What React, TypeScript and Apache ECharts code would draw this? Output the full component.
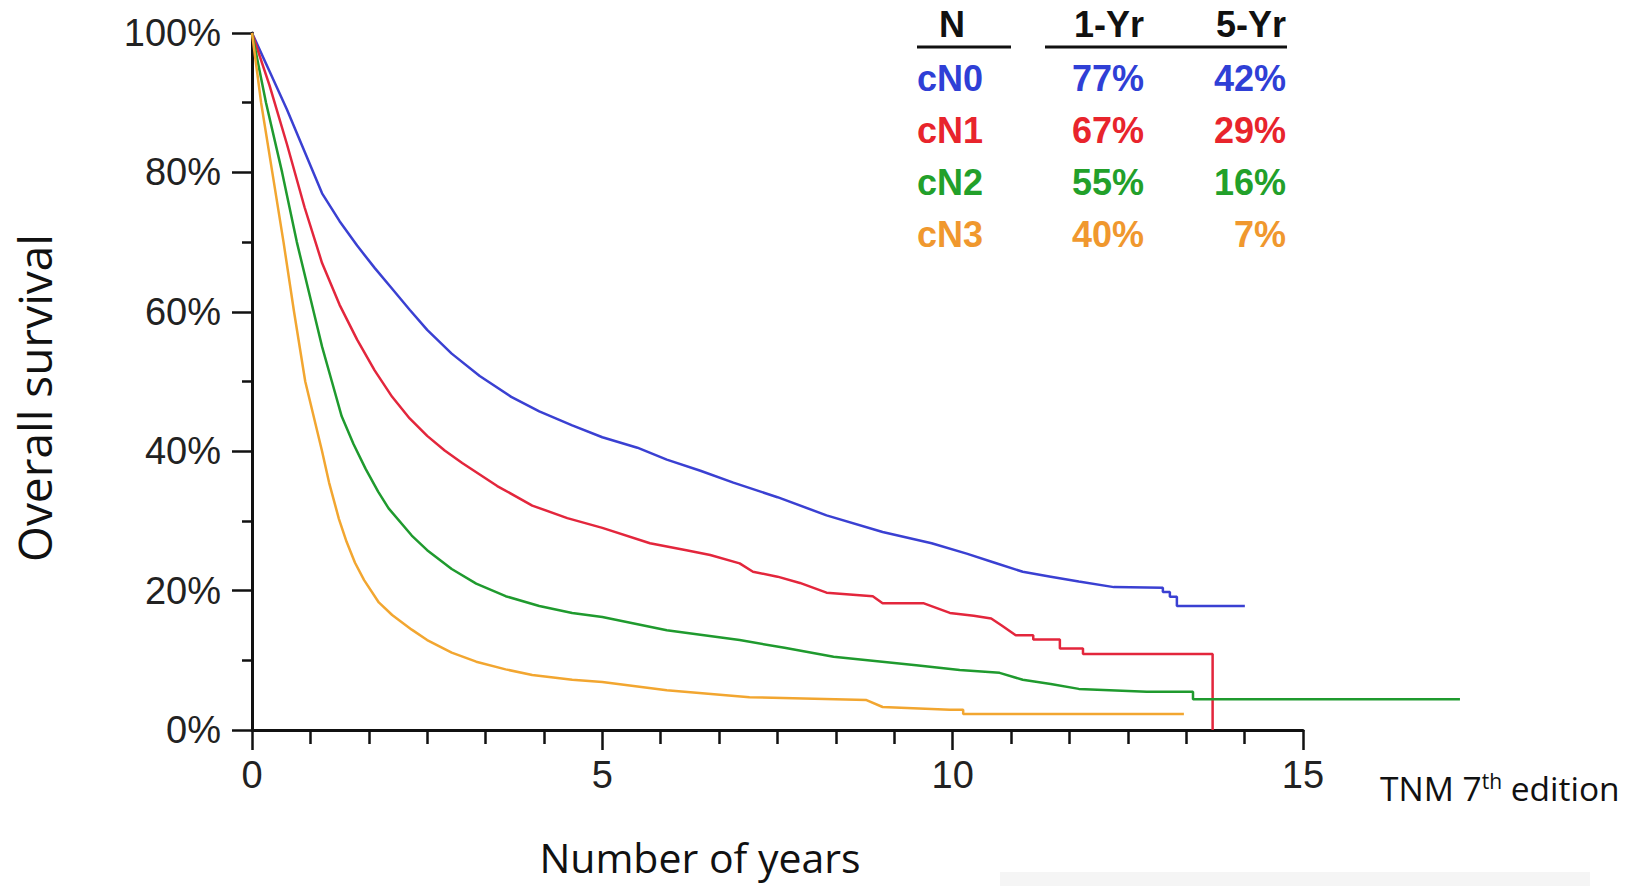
import React, { useEffect, useRef } from "react";
import * as echarts from "echarts";

// Kaplan-Meier style survival curves: [years, survival %]
const cN0: [number, number][] = [
  [0, 100], [0.25, 94.5], [0.5, 89], [0.75, 83], [1, 77], [1.25, 73], [1.5, 69.5], [1.75, 66.3],
  [2, 63.3], [2.25, 60.3], [2.5, 57.4], [2.85, 54], [3.25, 50.8], [3.7, 47.8], [4.1, 45.7],
  [4.57, 43.7], [5, 42], [5.5, 40.5], [5.92, 38.8], [6.4, 37.2], [6.87, 35.5], [7.5, 33.4],
  [8.2, 30.8], [9.0, 28.4], [9.7, 26.8], [10.2, 25.3], [10.6, 24], [11.0, 22.7], [11.4, 22.0],
  [11.8, 21.3], [12.3, 20.5], [13.0, 20.4], [13.0, 19.8], [13.1, 19.8], [13.1, 19.1], [13.2, 19.1],
  [13.2, 17.8], [14.17, 17.8],
];
const cN1: [number, number][] = [
  [0, 100], [0.25, 92.5], [0.5, 84], [0.75, 75], [1, 67], [1.25, 61], [1.5, 56], [1.75, 51.6],
  [2, 47.8], [2.25, 44.7], [2.5, 42.2], [2.75, 40.1], [3, 38.3], [3.5, 35], [4, 32.2], [4.5, 30.4],
  [5, 29], [5.68, 26.8], [6.2, 25.8], [6.54, 25.1], [6.96, 23.9], [7.15, 22.7], [7.5, 22.0],
  [7.82, 21.1], [8.2, 19.7], [8.86, 19.2], [9.0, 18.2], [9.58, 18.2], [9.96, 16.8], [10.3, 16.4],
  [10.55, 16.0], [10.7, 15.0], [10.9, 13.6], [11.15, 13.6], [11.15, 13.0], [11.53, 13.0],
  [11.53, 11.7], [11.86, 11.7], [11.86, 10.9], [13.71, 10.9], [13.71, 0],
];
const cN2: [number, number][] = [
  [0, 100], [0.2, 90], [0.43, 80], [0.64, 70], [0.88, 60], [1, 55], [1.14, 50], [1.28, 45],
  [1.45, 41], [1.62, 37.5], [1.8, 34.2], [1.95, 31.8], [2.28, 27.9], [2.5, 25.8], [2.85, 23.1],
  [3.2, 21], [3.62, 19.2], [4.1, 17.8], [4.57, 16.8], [5, 16.2], [5.92, 14.3], [6.96, 12.9],
  [7.6, 11.8], [8.3, 10.5], [9.48, 9.3], [10.1, 8.6], [10.67, 8.2], [11.0, 7.2], [11.4, 6.6],
  [11.8, 5.9], [12.77, 5.5], [13.43, 5.5], [13.43, 4.4], [17.24, 4.4],
];
const cN3: [number, number][] = [
  [0, 100], [0.13, 90], [0.29, 80], [0.45, 70], [0.6, 60], [0.76, 50], [1, 40], [1.1, 35.5],
  [1.24, 30.3], [1.35, 27], [1.47, 24], [1.6, 21.5], [1.81, 18.3], [2.0, 16.5], [2.28, 14.4],
  [2.5, 12.9], [2.85, 11.1], [3.2, 9.8], [3.62, 8.7], [4, 7.9], [4.57, 7.2], [5, 6.9], [5.92, 5.7],
  [7.1, 4.7], [8.77, 4.3], [9.0, 3.3], [9.96, 2.9], [10.15, 2.9], [10.15, 2.3], [13.3, 2.3],
];

const groupNames = ["cN0", "cN1", "cN2", "cN3"];
const groupData = [cN0, cN1, cN2, cN3];
const oneYear = ["77%", "67%", "55%", "40%"];
const fiveYear = ["42%", "29%", "16%", "7%"];
const tableHeaders = ["N", "1-Yr", "5-Yr"];
const lineColors = ["#3a40d2", "#e3263c", "#1f9a2e", "#f2a630"];
const textColors = ["#2f3fd6", "#e8242c", "#22a02a", "#f0982e"];
const xAxisMax = 15;
const curveAxisMax = 18;

export default function App() {
  const ref = useRef<HTMLDivElement>(null);

  useEffect(() => {
    if (!ref.current) return;
    const chart = echarts.init(ref.current, null, { renderer: "svg" });
    const numFont = "'Liberation Sans', Arial, sans-serif";
    const tableFont = "bold 36px 'Liberation Sans', Arial, sans-serif";
    const gridLeft = 252;
    const gridRight = 330;
    const gridWidth = 1633 - gridLeft - gridRight;

    const center = { align: "center", textAlign: "center", verticalAlign: "middle", textVerticalAlign: "middle" };
    const right = { align: "right", textAlign: "right", verticalAlign: "middle", textVerticalAlign: "middle" };
    const left = { align: "left", textAlign: "left", verticalAlign: "middle", textVerticalAlign: "middle" };

    const graphic: any[] = [];
    graphic.push({ type: "text", x: 952, y: 24, style: { text: tableHeaders[0], font: tableFont, fill: "#111", ...center } });
    graphic.push({ type: "text", x: 1144, y: 24, style: { text: tableHeaders[1], font: tableFont, fill: "#111", ...right } });
    graphic.push({ type: "text", x: 1286, y: 24, style: { text: tableHeaders[2], font: tableFont, fill: "#111", ...right } });
    graphic.push({ type: "line", shape: { x1: 917, y1: 47, x2: 1011, y2: 47 }, style: { stroke: "#111", lineWidth: 3 } });
    graphic.push({ type: "line", shape: { x1: 1045, y1: 47, x2: 1287, y2: 47 }, style: { stroke: "#111", lineWidth: 3 } });
    groupNames.forEach((name, i) => {
      const y = 78 + i * 52;
      graphic.push({ type: "text", x: 917, y, style: { text: name, font: tableFont, fill: textColors[i], ...left } });
      graphic.push({ type: "text", x: 1144, y, style: { text: oneYear[i], font: tableFont, fill: textColors[i], ...right } });
      graphic.push({ type: "text", x: 1286, y, style: { text: fiveYear[i], font: tableFont, fill: textColors[i], ...right } });
    });
    graphic.push({
      type: "text", x: 34, y: 398, rotation: Math.PI / 2,
      style: { text: "Overall survival", font: "46px 'Open Sans', sans-serif", fill: "#111", ...center },
    });
    graphic.push({
      type: "text", x: 700, y: 857,
      style: { text: "Number of years", font: "41px 'Open Sans', sans-serif", fill: "#111", ...center },
    });
    graphic.push({
      type: "text", x: 1380, y: 788,
      style: {
        text: "{a|TNM 7}{b|th}{a| edition}",
        fill: "#111", ...left,
        rich: {
          a: { fontSize: 33.5, fontFamily: "'Open Sans', sans-serif", lineHeight: 44, verticalAlign: "middle", fill: "#111" },
          b: { fontSize: 21, fontFamily: "'Open Sans', sans-serif", lineHeight: 44, verticalAlign: "top", fill: "#111", padding: [4, 0, 0, 0] },
        },
      },
    });
    graphic.push({ type: "rect", shape: { x: 1000, y: 872, width: 590, height: 14 }, style: { fill: "#f5f5f5" }, z: -1 });

    const option: any = {
      animation: false,
      backgroundColor: "#ffffff",
      grid: [
        { left: gridLeft, right: gridRight, top: 33, bottom: 156, containLabel: false },
        { left: gridLeft, width: (gridWidth * curveAxisMax) / xAxisMax, top: 33, bottom: 156, containLabel: false },
      ],
      xAxis: [
        {
          type: "value", gridIndex: 0, min: 0, max: xAxisMax, interval: 5,
          axisLine: { show: true, onZero: false, lineStyle: { color: "#111", width: 3 } },
          axisTick: { show: true, length: 20, lineStyle: { color: "#111", width: 2.5 } },
          minorTick: { show: true, splitNumber: 6, length: 14, lineStyle: { color: "#111", width: 2.5 } },
          splitLine: { show: false },
          axisLabel: { fontSize: 38, fontFamily: numFont, color: "#222", margin: 26 },
        },
        { type: "value", gridIndex: 1, min: 0, max: curveAxisMax, show: false },
      ],
      yAxis: [
        {
          type: "value", gridIndex: 0, min: 0, max: 100, interval: 20,
          axisLine: { show: true, onZero: false, lineStyle: { color: "#111", width: 3 } },
          axisTick: { show: true, length: 20, lineStyle: { color: "#111", width: 2.5 } },
          minorTick: { show: true, splitNumber: 2, length: 10, lineStyle: { color: "#111", width: 2.5 } },
          splitLine: { show: false },
          axisLabel: { fontSize: 38, fontFamily: numFont, color: "#222", margin: 31, formatter: "{value}%" },
        },
        { type: "value", gridIndex: 1, min: 0, max: 100, show: false },
      ],
      series: groupNames.map((name, i) => ({
        name, type: "line", xAxisIndex: 1, yAxisIndex: 1, data: groupData[i],
        showSymbol: false, symbol: "none", clip: false,
        lineStyle: { color: lineColors[i], width: 2.5 }, z: 2,
      })),
      graphic,
    };
    chart.setOption(option);
    return () => chart.dispose();
  }, []);

  return <div ref={ref} style={{ position: "absolute", left: 0, top: 0, width: 1633, height: 886 }} />;
}
